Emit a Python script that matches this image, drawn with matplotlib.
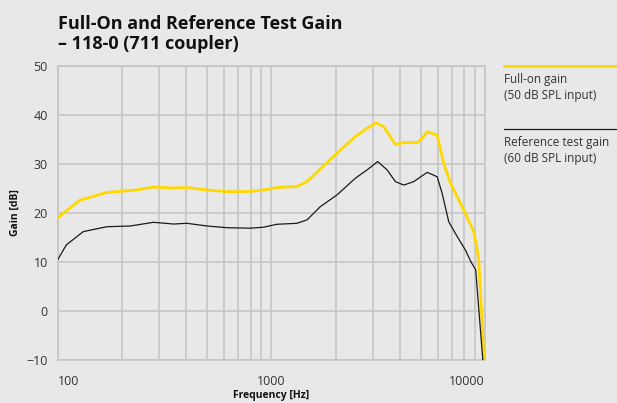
import matplotlib
matplotlib.use("Agg")
import matplotlib.pyplot as plt
from matplotlib.lines import Line2D
from matplotlib.ticker import LogLocator, NullFormatter

plt.rcParams['font.family'] = ['Open Sans', 'DejaVu Sans']

# Full-on gain (50 dB SPL input)
full_freq = [100, 127, 170, 235, 281, 349, 403, 500, 620, 797, 955, 1063, 1319, 1470,
             1697, 2031, 2474, 2807, 3103, 3357, 3809, 4166, 4813, 5079, 5363, 5973,
             6412, 6893, 7956, 8861, 9194, 9354, 9630, 9893]
full_gain = [19.0, 22.6, 24.2, 24.7, 25.3, 25.1, 25.2, 24.7, 24.35, 24.4, 24.8, 25.2, 25.4, 26.4,
             29.0, 32.2, 35.6, 37.3, 38.4, 37.6, 34.0, 34.35, 34.4, 35.2, 36.6, 35.9,
             30.1, 26.1, 20.6, 16.2, 12.4, 10.0, 0.0, -10.0]

# Reference test gain (60 dB SPL input)
ref_freq = [100, 110, 132, 170, 219, 281, 349, 403, 500, 620, 797, 920, 1063, 1319, 1470,
            1697, 2031, 2474, 2807, 3147, 3483, 3809, 4166, 4639, 5363, 5973, 6303, 6767,
            7410, 8104, 8600, 9044, 9765]
ref_gain = [10.4, 13.5, 16.2, 17.2, 17.35, 18.1, 17.75, 17.9, 17.35, 17.0, 16.9, 17.1, 17.7, 17.9, 18.6,
            21.3, 23.7, 27.1, 28.8, 30.5, 28.8, 26.4, 25.7, 26.4, 28.3, 27.4, 24.0, 18.2,
            15.2, 12.4, 10.0, 8.4, -10.0]

xticks = [100, 1000, 10000]
yticks = [-10, 0, 10, 20, 30, 40, 50]

bg = "#e8e8e8"
yellow = "#ffd800"
grid_c = "#c6c6c6"
txt = "#333333"

fig = plt.figure(figsize=(6.17, 4.03), dpi=100, facecolor=bg)
ax = fig.add_axes([0.0932, 0.1067, 0.6929, 0.7295], facecolor=bg)

ax.plot(full_freq, full_gain, color=yellow, lw=2.0, solid_capstyle="butt", zorder=3)
ax.plot(ref_freq, ref_gain, color="#1a1a1a", lw=0.9, zorder=4)

ax.set_xscale("log")
ax.set_xlim(100, 10000)
ax.set_ylim(-10, 50)
ax.set_xticks(xticks)
ax.set_xticklabels([str(v) for v in xticks])
ax.xaxis.set_minor_locator(LogLocator(base=10, subs=range(2, 10)))
ax.xaxis.set_minor_formatter(NullFormatter())
ax.set_yticks(yticks)
ax.grid(True, which="both", color=grid_c, lw=1.2)
ax.set_axisbelow(True)
for s in ax.spines.values():
    s.set_color(grid_c)
    s.set_linewidth(1.2)
ax.tick_params(which="both", length=0, colors=txt, labelsize=9)
ax.tick_params(axis="x", pad=11)
ax.tick_params(axis="y", pad=7)
labs = ax.get_xticklabels()
labs[0].set_ha("left")
labs[-1].set_ha("right")

ax.set_xlabel("Frequency [Hz]", fontsize=7.5, fontweight="bold", color="#111111", labelpad=1)
ax.set_ylabel("Gain [dB]", fontsize=7.5, fontweight="bold", color="#111111", labelpad=4)

fig.text(0.0932, 0.962, "Full-On and Reference Test Gain\n– 118-0 (711 coupler)",
         fontsize=13, fontweight="bold", color="#111111", va="top", ha="left", linespacing=1.15)

# legend on the right
fig.add_artist(Line2D([0.817, 1.0], [0.835, 0.835], color=yellow, lw=2.0))
fig.text(0.817, 0.818, "Full-on gain\n(50 dB SPL input)", fontsize=8.5, color=txt,
         va="top", ha="left", linespacing=1.3)
fig.add_artist(Line2D([0.817, 1.0], [0.68, 0.68], color="#1a1a1a", lw=0.9))
fig.text(0.817, 0.663, "Reference test gain\n(60 dB SPL input)", fontsize=8.5, color=txt,
         va="top", ha="left", linespacing=1.3)

fig.savefig("out.png", dpi=100, facecolor=bg)
